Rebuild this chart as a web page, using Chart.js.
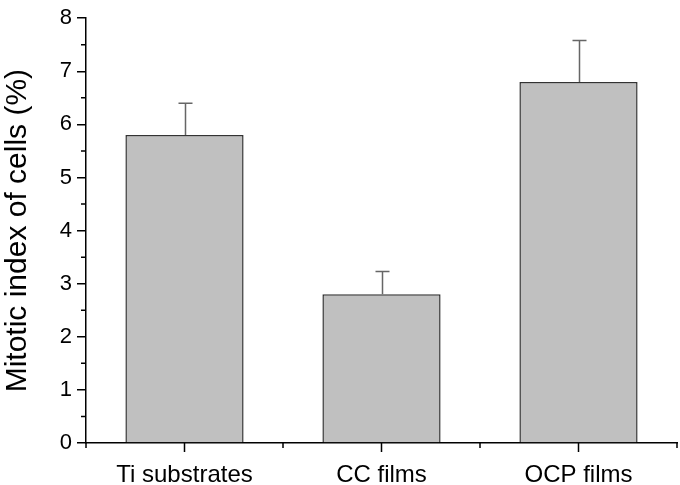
<!DOCTYPE html>
<html>
<head>
<meta charset="utf-8">
<script src="https://cdn.jsdelivr.net/npm/chart.js@4/dist/chart.umd.min.js"></script>
<style>
  html, body { margin: 0; padding: 0; background: #fff; }
  #wrap { width: 680px; height: 485px; }
</style>
</head>
<body>
<div id="wrap"><canvas id="chart" width="680" height="485"></canvas></div>
<script>
const categories = ['Ti substrates', 'CC films', 'OCP films'];
const mitoticIndex = [5.8, 2.8, 6.8];
const errorUp = [0.6, 0.43, 0.78];
const yMin = 0;
const yMax = 8;
const yMinorStep = 0.5;

const FONT = 'Liberation Sans, Arial, sans-serif';

// error bars + minor ticks, all placed through the chart's own scales
const extras = {
  id: 'extras',
  afterDatasetsDraw(chart) {
    const ctx = chart.ctx;
    const x = chart.scales.x, y = chart.scales.y;
    ctx.save();
    ctx.strokeStyle = '#666';
    ctx.lineWidth = 1.5;
    mitoticIndex.forEach((v, i) => {
      const cx = Math.round(x.getPixelForValue(i)) + 0.5;
      const y0 = y.getPixelForValue(v);
      const y1 = y.getPixelForValue(v + errorUp[i]);
      ctx.beginPath();
      ctx.moveTo(cx, y0);
      ctx.lineTo(cx, y1);
      ctx.moveTo(cx - 7, y1);
      ctx.lineTo(cx + 7, y1);
      ctx.stroke();
    });
    ctx.restore();
  },
  afterDraw(chart) {
    const ctx = chart.ctx;
    const x = chart.scales.x, y = chart.scales.y;
    const area = chart.chartArea;
    ctx.save();
    ctx.strokeStyle = '#000';
    ctx.lineWidth = 1.5;
    ctx.beginPath();
    // y minor ticks
    for (let v = yMin + yMinorStep; v < yMax; v += 2 * yMinorStep) {
      const py = y.getPixelForValue(v);
      ctx.moveTo(area.left, py);
      ctx.lineTo(area.left - 5, py);
    }
    // x ticks: category centres and boundaries
    categories.forEach((c, i) => {
      const px = x.getPixelForValue(i);
      ctx.moveTo(px, area.bottom);
      ctx.lineTo(px, area.bottom + 9);
    });
    for (let i = 0; i <= categories.length; i++) {
      const px = x.getPixelForValue(i - 0.5);
      ctx.moveTo(px, area.bottom);
      ctx.lineTo(px, area.bottom + 5);
    }
    ctx.stroke();
    ctx.restore();
  }
};

new Chart(document.getElementById('chart'), {
  type: 'bar',
  data: {
    labels: categories,
    datasets: [{
      data: mitoticIndex,
      backgroundColor: '#c0c0c0',
      borderColor: '#333',
      borderWidth: 1.5,
      borderSkipped: 'bottom',
      categoryPercentage: 1,
      barPercentage: 0.6
    }]
  },
  options: {
    responsive: false,
    animation: false,
    layout: { padding: { top: 12, right: 3, left: 0, bottom: 0 } },
    plugins: { legend: { display: false }, tooltip: { enabled: false } },
    scales: {
      x: {
        offset: true,
        grid: { display: false },
        border: { display: true, color: '#000', width: 1.5 },
        ticks: { color: '#000', padding: 10, font: { family: FONT, size: 24 } },
        afterFit(s) { s.height = 42; }
      },
      y: {
        min: yMin,
        max: yMax,
        grid: { display: true, drawOnChartArea: false, drawTicks: true, tickLength: 9, color: '#000', lineWidth: 1.5 },
        border: { display: true, color: '#000', width: 1.5 },
        ticks: { stepSize: 1, color: '#000', padding: 5, font: { family: FONT, size: 22 } },
        title: {
          display: true,
          text: 'Mitotic index of cells (%)',
          color: '#000',
          font: { family: FONT, size: 30 },
          padding: { top: 0, bottom: 0 }
        },
        afterFit(s) { s.width = 86; }
      }
    }
  },
  plugins: [extras]
});
</script>
</body>
</html>
